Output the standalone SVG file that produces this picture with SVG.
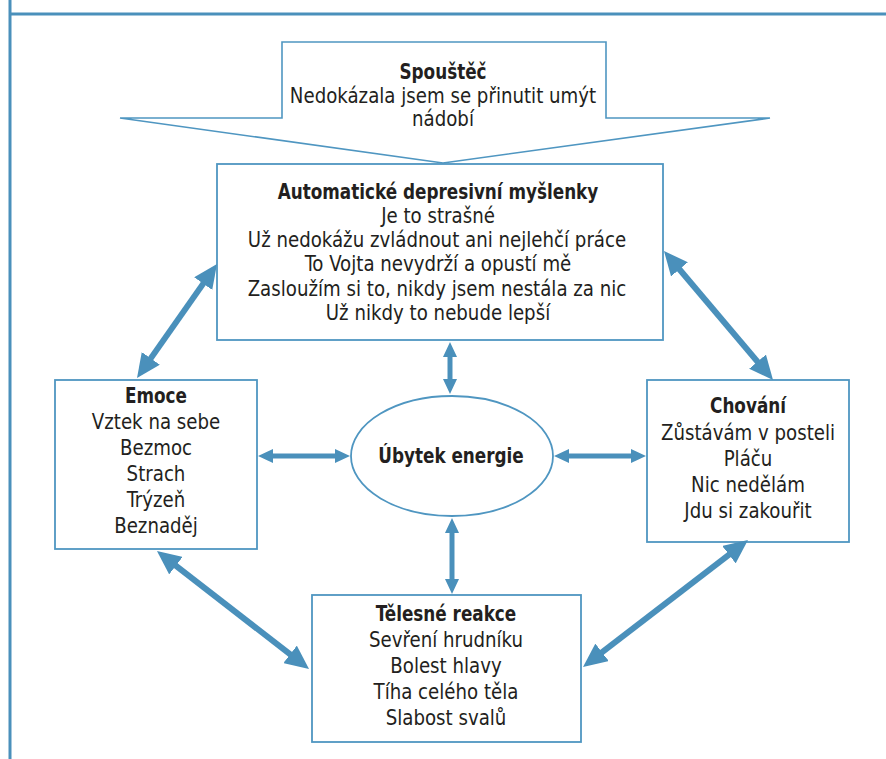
<svg xmlns="http://www.w3.org/2000/svg" width="886" height="759" viewBox="0 0 886 759">
<style>
  .frame { stroke: #4a90bb; stroke-width: 3; fill: none; }
  .box { fill: #ffffff; stroke: #4f96c1; stroke-width: 1.8; }
  .shape { fill: #ffffff; stroke: #4f96c1; stroke-width: 1.6; }
  text { font-family: "DejaVu Sans Condensed", "Liberation Sans Narrow", "Liberation Sans", sans-serif; font-stretch: condensed; font-size: 21.5px; fill: #231f20; text-anchor: middle; }
  .b { font-weight: bold; }
  .big { stroke: #4a90bb; stroke-width: 6; fill: none; marker-start: url(#hb); marker-end: url(#hb); }
  .small { stroke: #4a90bb; stroke-width: 5; fill: none; marker-start: url(#hs); marker-end: url(#hs); }
</style>
<defs>
  <marker id="hb" markerUnits="userSpaceOnUse" markerWidth="24" markerHeight="22" refX="8" refY="11" orient="auto-start-reverse" viewBox="0 0 24 22">
    <path d="M0,0 L24,11 L0,22 z" fill="#4a90bb"/>
  </marker>
  <marker id="hs" markerUnits="userSpaceOnUse" markerWidth="15" markerHeight="14" refX="4" refY="7" orient="auto-start-reverse" viewBox="0 0 15 14">
    <path d="M0,0 L15,7 L0,14 z" fill="#4a90bb"/>
  </marker>
</defs>
<rect width="886" height="759" fill="#ffffff"/>
<g id="frame">
  <line class="frame" x1="10" y1="0" x2="10" y2="759"/>
  <line class="frame" x1="10" y1="14" x2="886" y2="14"/>
</g>
<g id="spoustec">
  <path class="shape" d="M282,42 L606,42 L606,118 L770,118 L443,163 L120,118 L282,118 Z"/>
  <text transform="translate(443 79) scale(0.87 1)" class="b">Spouštěč</text>
  <text transform="translate(443 103) scale(0.94 1)">Nedokázala jsem se přinutit umýt</text>
  <text transform="translate(443 126) scale(0.94 1)">nádobí</text>
</g>
<g id="myslenky">
  <rect class="box" x="217" y="164" width="446" height="176"/>
  <text transform="translate(438 199) scale(0.87 1)" class="b">Automatické depresivní myšlenky</text>
  <text transform="translate(438 223) scale(0.94 1)">Je to strašné</text>
  <text transform="translate(437 247) scale(0.94 1)">Už nedokážu zvládnout ani nejlehčí práce</text>
  <text transform="translate(438 271) scale(0.94 1)">To Vojta nevydrží a opustí mě</text>
  <text transform="translate(437 296) scale(0.94 1)">Zasloužím si to, nikdy jsem nestála za nic</text>
  <text transform="translate(438 320) scale(0.94 1)">Už nikdy to nebude lepší</text>
</g>
<g id="emoce">
  <rect class="box" x="55" y="380" width="202" height="169"/>
  <text transform="translate(156 403) scale(0.87 1)" class="b">Emoce</text>
  <text transform="translate(156 429) scale(0.94 1)">Vztek na sebe</text>
  <text transform="translate(156 455) scale(0.94 1)">Bezmoc</text>
  <text transform="translate(156 481) scale(0.94 1)">Strach</text>
  <text transform="translate(156 507) scale(0.94 1)">Trýzeň</text>
  <text transform="translate(156 533) scale(0.94 1)">Beznaděj</text>
</g>
<g id="chovani">
  <rect class="box" x="647" y="380" width="202" height="162"/>
  <text transform="translate(748 413) scale(0.87 1)" class="b">Chování</text>
  <text transform="translate(748 440) scale(0.94 1)">Zůstávám v posteli</text>
  <text transform="translate(748 466) scale(0.94 1)">Pláču</text>
  <text transform="translate(748 492) scale(0.94 1)">Nic nedělám</text>
  <text transform="translate(748 518) scale(0.94 1)">Jdu si zakouřit</text>
</g>
<g id="telesne">
  <rect class="box" x="312" y="595" width="269" height="147"/>
  <text transform="translate(446 621) scale(0.87 1)" class="b">Tělesné reakce</text>
  <text transform="translate(446 647) scale(0.94 1)">Sevření hrudníku</text>
  <text transform="translate(446 673) scale(0.94 1)">Bolest hlavy</text>
  <text transform="translate(446 699) scale(0.94 1)">Tíha celého těla</text>
  <text transform="translate(446 725) scale(0.94 1)">Slabost svalů</text>
</g>
<g id="energie">
  <ellipse class="box" cx="452" cy="456" rx="101" ry="60"/>
  <text transform="translate(451 463) scale(0.87 1)" class="b">Úbytek energie</text>
</g>
<g id="connectors">
  <line class="big" x1="207.8" y1="277.1" x2="146.2" y2="364.9"/>
  <line class="big" x1="674.3" y1="263.2" x2="762.7" y2="367.8"/>
  <line class="big" x1="169.6" y1="560.8" x2="296.4" y2="659.2"/>
  <line class="big" x1="735.3" y1="549.8" x2="595.7" y2="657.2"/>
  <line class="small" x1="450" y1="353" x2="450" y2="383"/>
  <line class="small" x1="452" y1="529" x2="452" y2="583"/>
  <line class="small" x1="269" y1="456" x2="339" y2="456"/>
  <line class="small" x1="565" y1="456" x2="635" y2="456"/>
</g>
</svg>
